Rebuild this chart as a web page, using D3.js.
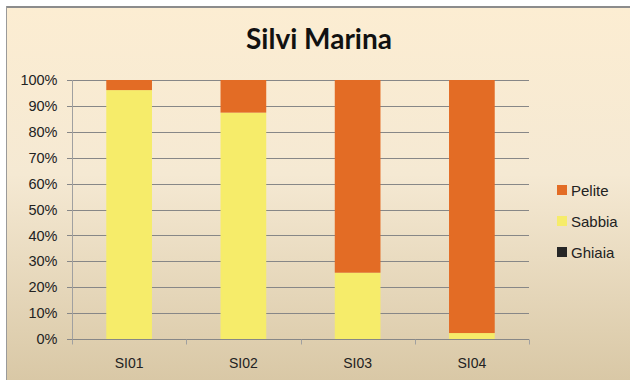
<!DOCTYPE html>
<html><head><meta charset="utf-8">
<script src="https://cdn.jsdelivr.net/npm/d3@7"></script>
<style>html,body{margin:0;padding:0;background:#fff;}svg{display:block;}</style>
</head><body>
<svg id="c" width="630" height="380"></svg>
<script>
const title = "Silvi Marina";
const categories = ["SI01","SI02","SI03","SI04"];
const ghiaia = [0, 0, 0, 0];
const sabbia = [96.1, 87.4, 25.6, 2.3];
const pelite = [3.9, 12.6, 74.4, 97.7];
const seriesNames = ["Ghiaia","Sabbia","Pelite"];
const seriesColors = ["#262626","#F6EC6A","#E36C25"];
const yTicks = [0,10,20,30,40,50,60,70,80,90,100];

(function(){
const svg = d3.select("#c");
const defs = svg.append("defs");
const g = defs.append("linearGradient").attr("id","bg").attr("x1",0).attr("y1",0).attr("x2",0).attr("y2",1);
g.append("stop").attr("offset","0%").attr("stop-color","#FCEDD2");
g.append("stop").attr("offset","45%").attr("stop-color","#F5E9D3");
g.append("stop").attr("offset","100%").attr("stop-color","#D9C8A6");

svg.append("rect").attr("x",6).attr("y",6).attr("width",624).attr("height",374).attr("fill","url(#bg)");
svg.append("line").attr("x1",6).attr("x2",630).attr("y1",7).attr("y2",7).attr("stroke","#8C8C8C").attr("stroke-width",2);
svg.append("line").attr("x1",6.5).attr("x2",6.5).attr("y1",6).attr("y2",380).attr("stroke","#9A9A9A").attr("stroke-width",1);

svg.append("text").attr("x",319).attr("y",49).attr("text-anchor","middle")
  .attr("font-family","Lato, 'Open Sans', sans-serif").attr("font-weight","bold").attr("font-size",28)
  .attr("fill","#111").text(title);

const pl = 72, pr = 529, pt = 80, pb = 339;
const x = d3.scaleBand().domain(categories).range([pl,pr]).paddingInner(0.6).paddingOuter(0.3);
const y = d3.scaleLinear().domain([0,100]).range([pb,pt]);

svg.append("g").selectAll("line").data(yTicks).join("line")
  .attr("x1",pl-5).attr("x2",pr).attr("y1",d=>Math.round(y(d))+0.5).attr("y2",d=>Math.round(y(d))+0.5)
  .attr("stroke","#878787").attr("stroke-width",1);

const rows = categories.map((c,i)=>({cat:c, Ghiaia:ghiaia[i], Sabbia:sabbia[i], Pelite:pelite[i]}));
const stack = d3.stack().keys(seriesNames)(rows);
svg.append("g").selectAll("g").data(stack).join("g")
  .attr("fill",(d,i)=>seriesColors[i])
  .selectAll("rect").data(d=>d).join("rect")
  .attr("x",d=>x(d.data.cat)).attr("width",x.bandwidth())
  .attr("y",d=>y(d[1])).attr("height",d=>Math.max(0,y(d[0])-y(d[1])));

const yAxis = d3.axisLeft(y).tickValues(yTicks).tickFormat(d=>d+"%").tickSize(0).tickPadding(15);
const ya = svg.append("g").attr("transform",`translate(${pl+0.5},0)`).call(yAxis);
ya.select(".domain").attr("stroke","#A0A0A0").attr("d",`M0,${pt}V${pb+5}`);
ya.selectAll("text").attr("font-family","'Liberation Sans', Arial, sans-serif").attr("font-size",14.5).attr("fill","#222");

const xa = svg.append("g").attr("transform",`translate(0,${pb+0.5})`);
xa.append("line").attr("x1",pl).attr("x2",pr).attr("stroke","#878787");
const bounds = d3.range(categories.length+1).map(i=>pl + i*(pr-pl)/categories.length);
xa.selectAll("line.t").data(bounds).join("line").attr("class","t")
  .attr("x1",d=>Math.round(d)+0.5).attr("x2",d=>Math.round(d)+0.5).attr("y1",0).attr("y2",5).attr("stroke","#A0A0A0");
xa.selectAll("text").data(categories).join("text")
  .attr("x",d=>x(d)+x.bandwidth()/2).attr("y",28).attr("text-anchor","middle")
  .attr("font-family","'Liberation Sans', Arial, sans-serif").attr("font-size",14).attr("fill","#222").text(d=>d);

const legendOrder = [2,1,0];
const lg = svg.append("g");
legendOrder.forEach((si,k)=>{
  const ly = 190 + k*31;
  lg.append("rect").attr("x",557).attr("y",ly-5).attr("width",10).attr("height",10).attr("fill",seriesColors[si]);
  lg.append("text").attr("x",571).attr("y",ly+5.5).attr("font-family","'Liberation Sans', Arial, sans-serif")
    .attr("font-size",15).attr("fill","#222").text(seriesNames[si]);
});
})();
</script>
</body></html>
